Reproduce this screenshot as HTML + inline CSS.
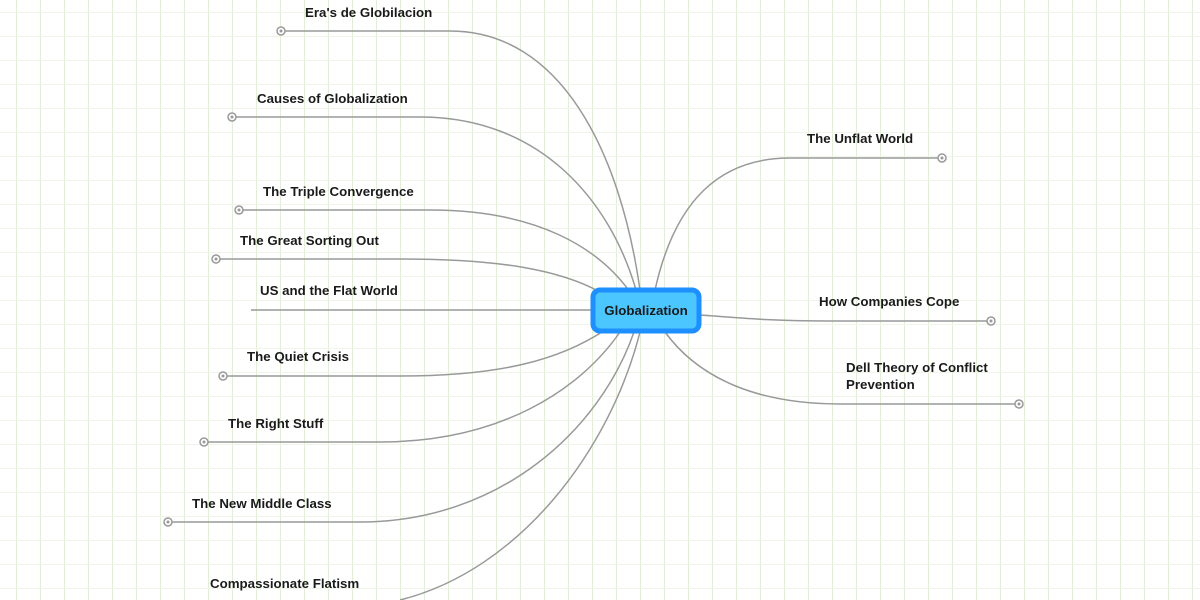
<!DOCTYPE html>
<html><head><meta charset="utf-8"><style>
html,body{margin:0;padding:0;width:1200px;height:600px;overflow:hidden;background:#fff}
svg{display:block}
text{font-family:"Liberation Sans",sans-serif;font-weight:bold;font-size:13.3px;fill:#1a1a1a}
</style></head><body>
<svg width="1200" height="600" viewBox="0 0 1200 600">
<defs>
<pattern id="gv" width="24" height="24" patternUnits="userSpaceOnUse" x="16" y="12">
<line x1="0.5" y1="0" x2="0.5" y2="24" stroke="#e3eed6" stroke-width="1"/>
<line x1="0" y1="0.5" x2="24" y2="0.5" stroke="#f1f4e9" stroke-width="1"/>
</pattern>
</defs>
<rect width="1200" height="600" fill="url(#gv)"/>
<g fill="none" stroke="#999" stroke-width="1.5">
<path d="M281 31 H450 C560 31 620 150 640 290"/>
<path d="M232 117 H420 C540 117 610 200 636 290"/>
<path d="M239 210 H430 C540 210 600 250 630 292"/>
<path d="M216 259 H400 C500 259 560 270 600 292"/>
<path d="M251 310 H593"/>
<path d="M223 376 H400 C500 376 560 360 605 330"/>
<path d="M204 442 H380 C500 442 580 390 620 332"/>
<path d="M168 522 H360 C500 522 600 430 634 332"/>
<path d="M400 600 C520 570 610 450 640 332"/>
<path d="M942 158 H790 C720 158 675 200 655 290"/>
<path d="M991 321 H830 C770 321 740 318 701 315"/>
<path d="M1019 404 H840 C760 404 700 380 665 332"/>
</g>
<g fill="#fff" stroke="#999" stroke-width="1.5">
<circle cx="281" cy="31" r="4"/><circle cx="232" cy="117" r="4"/><circle cx="239" cy="210" r="4"/>
<circle cx="216" cy="259" r="4"/><circle cx="223" cy="376" r="4"/><circle cx="204" cy="442" r="4"/>
<circle cx="168" cy="522" r="4"/><circle cx="942" cy="158" r="4"/><circle cx="991" cy="321" r="4"/>
<circle cx="1019" cy="404" r="4"/>
</g>
<g fill="#999">
<circle cx="281" cy="31" r="1.5"/><circle cx="232" cy="117" r="1.5"/><circle cx="239" cy="210" r="1.5"/>
<circle cx="216" cy="259" r="1.5"/><circle cx="223" cy="376" r="1.5"/><circle cx="204" cy="442" r="1.5"/>
<circle cx="168" cy="522" r="1.5"/><circle cx="942" cy="158" r="1.5"/><circle cx="991" cy="321" r="1.5"/>
<circle cx="1019" cy="404" r="1.5"/>
</g>
<rect x="593" y="290" width="106" height="41" rx="7" fill="#4cc6ff" stroke="#1e8fff" stroke-width="5"/>
<text x="646" y="315" text-anchor="middle">Globalization</text>
<text x="305" y="17">Era's de Globilacion</text>
<text x="257" y="103">Causes of Globalization</text>
<text x="263" y="196">The Triple Convergence</text>
<text x="240" y="245">The Great Sorting Out</text>
<text x="260" y="295">US and the Flat World</text>
<text x="247" y="361">The Quiet Crisis</text>
<text x="228" y="428">The Right Stuff</text>
<text x="192" y="508">The New Middle Class</text>
<text x="210" y="588">Compassionate Flatism</text>
<text x="807" y="143">The Unflat World</text>
<text x="819" y="306">How Companies Cope</text>
<text x="846" y="372">Dell Theory of Conflict</text>
<text x="846" y="389">Prevention</text>
</svg>
</body></html>
